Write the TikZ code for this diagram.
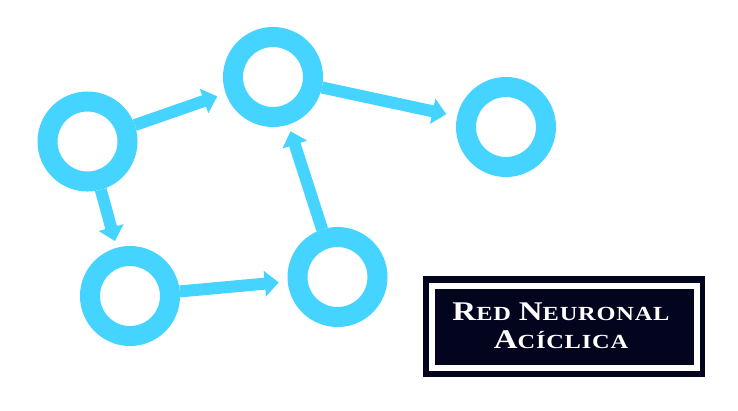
\documentclass[tikz,border=0pt]{standalone}
\usepackage{fontspec}
\usepackage{tikz}
\usetikzlibrary{arrows.meta}
\newfontfamily\titlefont[FakeStretch=1.22,LetterSpace=4]{Liberation Serif}
\newcommand{\bigc}[1]{{\fontsize{27}{28}\selectfont #1}}
\newcommand{\smallc}[1]{{\fontsize{20}{28}\selectfont #1}}
\definecolor{neuron}{HTML}{45D4FF}
\definecolor{navy}{HTML}{03041E}
\tikzset{unit/.style = {circle, draw=neuron, line width=20pt,
                        minimum size=80pt, inner sep=0pt},
         link/.style = {draw=neuron, line width=12pt,
                        -{Triangle[length=14pt,width=25pt]}, shorten >=9pt},
         title/.style = {text=white, font=\titlefont\bfseries, inner sep=0pt, anchor=base}}

\begin{document}
\begin{tikzpicture}[x=1pt, y=-1pt]
    \useasboundingbox (0, 0) rectangle (738, 410);
    \node [unit] (left) at (87.5, 141.5) {};
    \node [unit] (top) at (273, 77) {};
    \node [unit] (right) at (506, 127) {};
    \node [unit] (low) at (130, 296) {};
    \node [unit] (mid) at (337.5, 277) {};
    \draw [link] (left) -- (top);
    \draw [link, shorten >=11pt] (top) -- (right);
    \draw [link, shorten >=7pt] (left) -- (low);
    \draw [link] (low) -- (mid);
    \draw [link, shorten >=7pt] (mid) -- (top);
    % label
    \fill [navy] (423, 276) rectangle (705, 377);
    \draw [white, line width=6pt] (431.5, 286) rectangle (696.5, 367.5);
    \node [title] (label1) at (561, 320) {\bigc{R}\smallc{ED}\hspace{8pt}\bigc{N}\smallc{EURONAL}};
    \node [title] (label2) at (561, 348) {\bigc{A}\smallc{CÍCLICA}};
\end{tikzpicture}
\end{document}
